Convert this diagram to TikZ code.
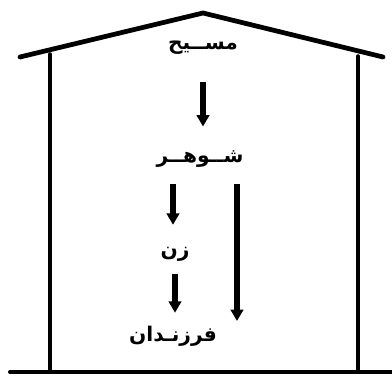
\documentclass[tikz,border=0pt]{standalone}
\usepackage{fontspec}
\newfontfamily\arabicfont[Script=Arabic]{DejaVu Sans}
\TeXXeTstate=1
\usepackage{tikz}
\usetikzlibrary{arrows.meta,positioning,calc}
\tikzset{
  wall/.style={line width=#1, line cap=round},
  wall/.default=0.7mm,
  lbl/.style={font=\arabicfont\bfseries\fontsize{11.5}{14}\selectfont, inner sep=1pt},
  fatarrow/.style={line width=#1, -{Triangle[width=2.5mm, length=2.3mm]}},
  fatarrow/.default=1.3mm,
}
\begin{document}
\begin{tikzpicture}[x=0.02cm, y=-0.02cm]
  \useasboundingbox (0,0) rectangle (392,381);
  % house
  \draw[wall=0.95mm, line join=round] (20,57) -- (203,13) -- (383,57);
  \draw[wall] (50,54) -- (50,372);
  \draw[wall] (358,56) -- (358,372);
  \draw[wall=0.8mm] (10,372) -- (392,372);
  % names
  \node[lbl] (masih) at (203,48) {\beginR مســیح\endR};
  \node[lbl] (shohar) at (200,159) {\beginR شــوهــر\endR};
  \node[lbl] (zan) at (175,254) {\beginR زن\endR};
  \node[lbl] (farzandan) at (173,336) {\beginR فرزنـدان\endR};
  \coordinate (lt) at (237,184);
  \coordinate (lb) at (237,321);
  % arrows
  \draw[fatarrow] ($(masih.south)+(0,25)$) -- ($(shohar.north)+(3,-22)$);
  \draw[fatarrow] ($(zan |- shohar.south)+(-2,15)$) -- ($(zan.north)+(-2,-20)$);
  \draw[fatarrow] ($(zan.south)+(0,11)$) -- ($(farzandan.north)+(2,-11)$);
  \draw[fatarrow=1.05mm] (lt) -- (lb);
\end{tikzpicture}
\end{document}
